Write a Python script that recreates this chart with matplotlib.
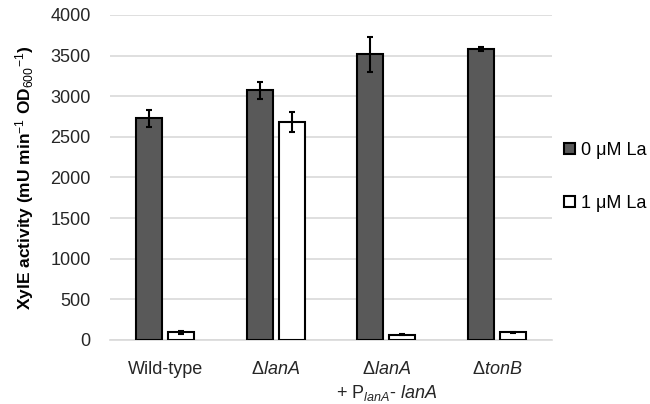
import matplotlib
matplotlib.use("Agg")
import matplotlib.pyplot as plt
import numpy as np

plt.rcParams['font.family'] = ['Liberation Sans', 'DejaVu Sans']
plt.rcParams['mathtext.fontset'] = 'custom'
plt.rcParams['mathtext.rm'] = 'Liberation Sans'
plt.rcParams['mathtext.it'] = 'Liberation Sans:italic'
plt.rcParams['mathtext.bf'] = 'Liberation Sans:bold'

categories = ["Wild-type", r"Δ$\mathit{lanA}$",
              "Δ$\\mathit{lanA}$\n+ P$_{\\mathit{lanA}}$- $\\mathit{lanA}$",
              r"Δ$\mathit{tonB}$"]
series_names = ["0 μM La", "1 μM La"]
values_0uM = [2730, 3075, 3515, 3580]
errors_0uM = [105, 105, 215, 20]
values_1uM = [95, 2680, 65, 95]
errors_1uM = [15, 125, 8, 8]
yticks = [0, 500, 1000, 1500, 2000, 2500, 3000, 3500, 4000]

fig = plt.figure(figsize=(6.5, 4.04), dpi=100)
ax = fig.add_axes([110/650, 1-340/404, (552-110)/650, (340-15)/404])

x = np.arange(len(categories))
w = 0.235
off = 0.145
ax.bar(x - off, values_0uM, w, color='#595959', edgecolor='black', linewidth=1.5,
       yerr=errors_0uM, error_kw=dict(ecolor='black', elinewidth=1.5, capsize=2.5, capthick=1.5),
       label=series_names[0], zorder=3)
ax.bar(x + off, values_1uM, w, color='white', edgecolor='black', linewidth=1.5,
       yerr=errors_1uM, error_kw=dict(ecolor='black', elinewidth=1.5, capsize=2.5, capthick=1.5),
       label=series_names[1], zorder=3)

ax.set_xlim(-0.5, len(categories) - 0.5)
ax.set_ylim(0, 4000)
ax.set_yticks(yticks)
ax.set_yticklabels([str(t) for t in yticks], fontsize=13, color='#262626')
ax.yaxis.grid(True, color='#d9d9d9', linewidth=1.2, zorder=0)
ax.set_axisbelow(True)
ax.tick_params(axis='y', length=0, pad=14)
for s in ['top', 'right', 'left']:
    ax.spines[s].set_visible(False)
ax.spines['bottom'].set_color('#d9d9d9')
ax.spines['bottom'].set_linewidth(1.2)

ax.set_xticks(x)
ax.set_xticklabels(categories, fontsize=13, color='#262626', linespacing=1.35,
                   verticalalignment='top')
ax.tick_params(axis='x', length=0, pad=15)

ax.set_ylabel("XylE activity (mU min$^{-1}$ OD$_{600}$$^{-1}$)", fontsize=12.5,
              fontweight='bold', labelpad=10)

leg = fig.legend(loc='center left', bbox_to_anchor=(0.843, 0.562), frameon=False,
                 fontsize=13, handlelength=0.6, handleheight=0.6, handletextpad=0.35,
                 labelspacing=2.0)

fig.savefig("out.png", dpi=100)
